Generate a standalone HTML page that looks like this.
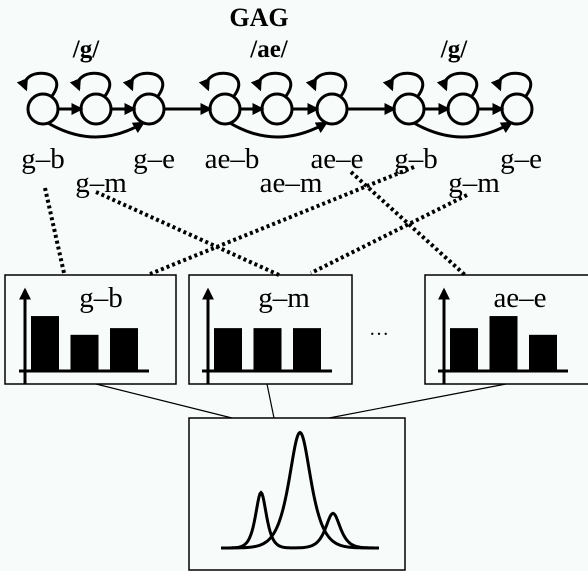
<!DOCTYPE html>
<html><head><meta charset="utf-8"><style>
html,body{margin:0;padding:0;background:#fff;}
svg{display:block;}
text{font-family:"Liberation Serif",serif;fill:#000;}
</style></head><body>
<svg width="588" height="580" viewBox="0 0 588 580">
<defs>
<marker id="ah" viewBox="0 0 10 10" refX="8" refY="5" markerWidth="4" markerHeight="4" orient="auto"><path d="M0,0L10,5L0,10z" fill="#000"/></marker>
</defs>
<rect x="0" y="0" width="588" height="571" fill="#f7fcfa"/>
<text x="259" y="26" font-size="26" font-weight="bold" text-anchor="middle">GAG</text>
<text x="86" y="57" font-size="25" font-weight="bold" text-anchor="middle">/g/</text>
<text x="269" y="57" font-size="25" font-weight="bold" text-anchor="middle">/ae/</text>
<text x="454" y="57" font-size="25" font-weight="bold" text-anchor="middle">/g/</text>
<g id="hmm" stroke="#000" fill="none" stroke-width="3"></g>
<g id="dots" stroke="#000" fill="none" stroke-width="4" stroke-dasharray="3,3">
<line x1="45" y1="188" x2="64" y2="273"/>
<line x1="96" y1="192" x2="279" y2="275"/>
<line x1="414" y1="167" x2="150" y2="274"/>
<line x1="351" y1="172" x2="465" y2="275"/>
<line x1="467" y1="195" x2="311" y2="273"/>
</g>
<g font-size="29" text-anchor="middle">
<text x="43" y="168">g–b</text>
<text x="154" y="168">g–e</text>
<text x="232" y="168">ae–b</text>
<text x="337" y="168">ae–e</text>
<text x="416" y="168">g–b</text>
<text x="521" y="168">g–e</text>
<text x="101" y="192">g–m</text>
<text x="291" y="192">ae–m</text>
<text x="474" y="192">g–m</text>
</g>
<g stroke="#000" stroke-width="1.2">
<line x1="96" y1="384" x2="232" y2="418"/>
<line x1="267" y1="384" x2="274" y2="418"/>
<line x1="506" y1="384" x2="329" y2="418"/>
</g>
<g id="boxes"></g>
<text x="379" y="335" font-size="20" text-anchor="middle">…</text>
<rect x="189" y="418" width="216" height="152" fill="none" stroke="#000" stroke-width="1.5"/>
<g id="mix"></g>
</svg>
<script>
// histogram data
const histLabels = ["g–b","g–m","ae–e"];
const histValues = [[0.82,0.54,0.64],[0.64,0.64,0.64],[0.64,0.82,0.54]];
// mixture components: [center, height, width]
const curveACenters = [261,333];
const curveAHeights = [0.72,0.45];
const curveAWidths = [6,8];
const curveBCenters = [300];
const curveBHeights = [1.5];
const curveBWidths = [12];

const NS="http://www.w3.org/2000/svg";
function mk(tag,attrs,parent){const e=document.createElementNS(NS,tag);for(const k in attrs)e.setAttribute(k,attrs[k]);parent.appendChild(e);return e;}

// HMM
const hmm=document.getElementById('hmm');
const groups=[[43,96,149],[225,277,332],[409,463,517]];
const cy=109,r=15;
groups.forEach((g,gi)=>{
  g.forEach((cx,i)=>{
    const c=mk('circle',{cx:cx,cy:cy,r:r},hmm);
    
    
    const l=mk('path',{d:`M${cx+9},${cy-13} C${cx+30},${cy-42} ${cx-26},${cy-42} ${cx-17},${cy-20}`,'marker-end':'url(#ah)'},hmm);
    
    
    if(i<2){const t=mk('line',{x1:cx+r,y1:cy,x2:g[i+1]-r,y2:cy,'marker-end':'url(#ah)'},hmm);
      
      }
  });
  const s=mk('path',{d:`M${g[0]+5},${cy+14} Q${g[1]},${cy+42} ${g[2]-6},${cy+14}`,'marker-end':'url(#ah)'},hmm);
  
  
  if(gi<2){const t=mk('line',{x1:g[2]+r,y1:cy,x2:groups[gi+1][0]-r,y2:cy,'marker-end':'url(#ah)'},hmm);
    
    }
});

// boxes
const boxes=document.getElementById('boxes');
const boxX=[[5,176],[189,352],[425,590]];
const axX=[25,208,444];
boxX.forEach((b,bi)=>{
  const g=mk('g',{},boxes);
  
  
  const rc=mk('rect',{x:b[0],y:275,width:b[1]-b[0],height:109,fill:'none',stroke:'#000','stroke-width':1.5},g);
  
  
  const ax=axX[bi];
  const ya=mk('line',{x1:ax,y1:384,x2:ax,y2:290,stroke:'#000','stroke-width':3,'marker-end':'url(#ah)'},g);
  
  
  const xa=mk('line',{x1:ax-6,y1:371,x2:ax+124,y2:371,stroke:'#000','stroke-width':3},g);
  
  
  const yScale=v=>371-v*67;
  histValues[bi].forEach((v,i)=>{
    const x=ax+6+i*39.5;
    const br=mk('rect',{x:x,y:yScale(v),width:28,height:371-yScale(v),fill:'#000'},g);
    
    
  });
  const t=mk('text',{x:ax+76,y:307,'font-size':29,'text-anchor':'middle'},g);
  t.textContent=histLabels[bi];
  
  
});

// mixture
const mix=document.getElementById('mix');
const base=548, sc=77;
function curve(cs,hs,ws){
  let d='';
  for(let x=221;x<=379;x+=1){
    let y=0;cs.forEach((c,i)=>{const z=(x-c)/ws[i];y+=hs[i]/(1+z*z*0.6)*Math.exp(-z*z*0.15);});
    d+=(x===221?'M':'L')+x+','+(base-y*sc).toFixed(1);
  }
  return d;
}
const pa=mk('path',{d:curve(curveACenters,curveAHeights,curveAWidths),fill:'none',stroke:'#000','stroke-width':3},mix);


const pb=mk('path',{d:curve(curveBCenters,curveBHeights,curveBWidths),fill:'none',stroke:'#000','stroke-width':3},mix);


</script>
</body></html>
